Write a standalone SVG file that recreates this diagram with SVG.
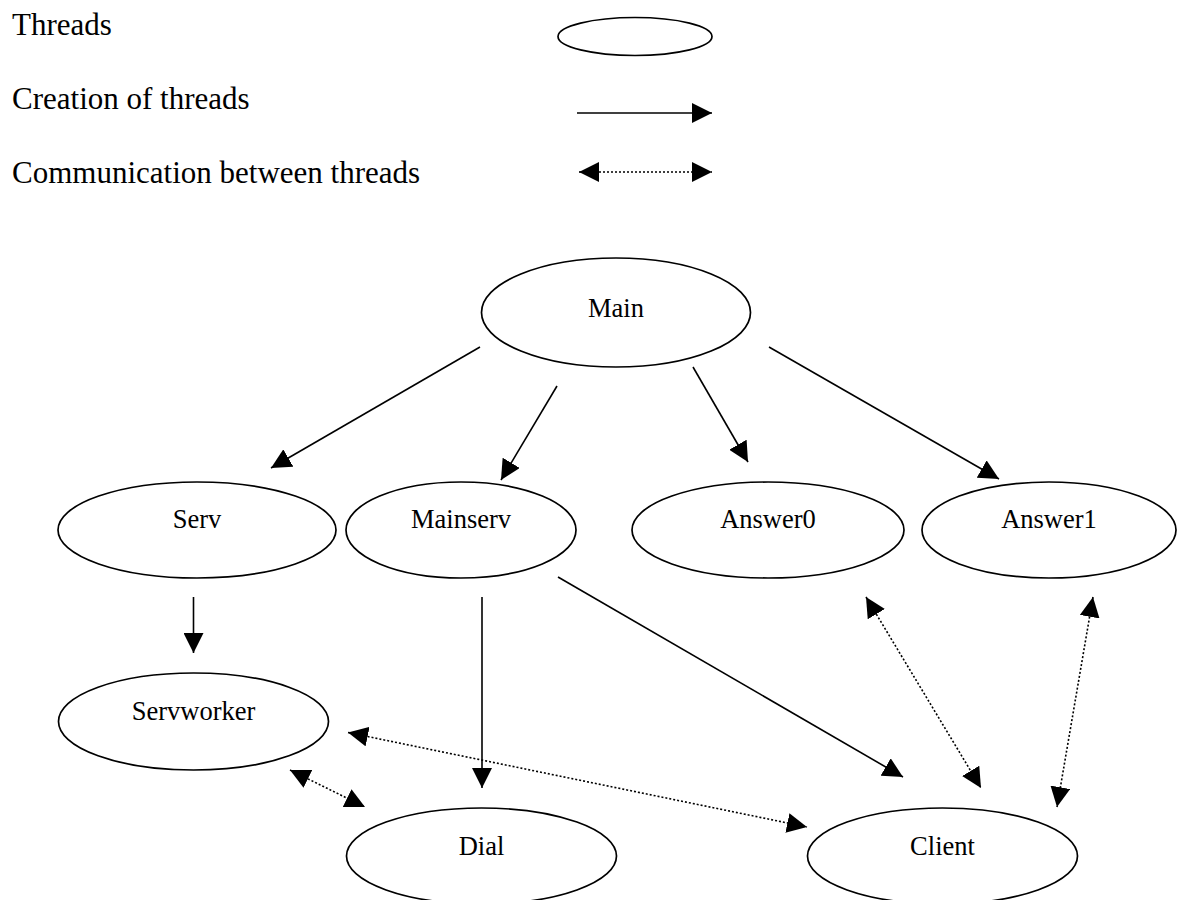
<svg xmlns="http://www.w3.org/2000/svg" width="1191" height="900" viewBox="0 0 1191 900">
  <style>
    .node { fill: #fff; stroke: #000; stroke-width: 1.7; }
    .label { font-family: "Liberation Serif", "Times New Roman", serif; font-size: 26.5px; text-anchor: middle; fill: #000; }
    .legend { font-family: "Liberation Serif", "Times New Roman", serif; font-size: 31px; fill: #000; }
    .create { stroke: #000; stroke-width: 1.6; fill: none; marker-end: url(#head); }
    .talk { stroke: #000; stroke-width: 1.6; stroke-dasharray: 2 2; fill: none; marker-start: url(#head); marker-end: url(#head); }
  </style>
  <defs>
    <marker id="head" markerUnits="userSpaceOnUse" markerWidth="20" markerHeight="20" refX="20" refY="10" orient="auto-start-reverse" viewBox="0 0 20 20">
      <path d="M0,0 L20,10 L0,20 Z" fill="#000" stroke="none"/>
    </marker>
  </defs>
  <rect width="1191" height="900" fill="#fff"/>

  <!-- legend -->
  <g id="legend">
    <text class="legend" x="12" y="35">Threads</text>
    <text class="legend" x="12" y="109">Creation of threads</text>
    <text class="legend" x="12" y="183">Communication between threads</text>
    <ellipse class="node" cx="635" cy="36.5" rx="77" ry="19"/>
    <line class="create" x1="577" y1="113" x2="712" y2="113"/>
    <line class="talk" x1="579" y1="172" x2="712" y2="172"/>
  </g>

  <!-- connectors -->
  <g id="connectors">
    <line class="create" x1="480" y1="347" x2="271" y2="468"/>
    <line class="create" x1="557" y1="386" x2="501" y2="480"/>
    <line class="create" x1="693" y1="367" x2="748" y2="462"/>
    <line class="create" x1="769" y1="347" x2="999" y2="479"/>
    <line class="create" x1="193.5" y1="597" x2="193.5" y2="653"/>
    <line class="create" x1="482" y1="597" x2="482" y2="788"/>
    <line class="create" x1="558" y1="577" x2="903" y2="777"/>
    <line class="talk" x1="866" y1="597" x2="981" y2="788"/>
    <line class="talk" x1="1093" y1="597" x2="1057" y2="807"/>
    <line class="talk" x1="348" y1="732.5" x2="807" y2="827"/>
    <line class="talk" x1="290" y1="770" x2="365" y2="807"/>
  </g>

  <g id="main">
    <ellipse class="node" cx="616" cy="312.5" rx="134.5" ry="54.5"/>
    <text class="label" x="616" y="317">Main</text>
  </g>
  <g id="serv">
    <ellipse class="node" cx="197" cy="530" rx="139" ry="48"/>
    <text class="label" x="197" y="528">Serv</text>
  </g>
  <g id="mainserv">
    <ellipse class="node" cx="461" cy="530" rx="115" ry="48"/>
    <text class="label" x="461" y="528">Mainserv</text>
  </g>
  <g id="answer0">
    <ellipse class="node" cx="768" cy="530" rx="136" ry="48"/>
    <text class="label" x="768" y="528">Answer0</text>
  </g>
  <g id="answer1">
    <ellipse class="node" cx="1049" cy="530" rx="127" ry="48"/>
    <text class="label" x="1049" y="528">Answer1</text>
  </g>
  <g id="servworker">
    <ellipse class="node" cx="193.5" cy="721.5" rx="135" ry="48.5"/>
    <text class="label" x="193.5" y="720">Servworker</text>
  </g>
  <g id="dial">
    <ellipse class="node" cx="481.5" cy="856" rx="135" ry="48"/>
    <text class="label" x="481.5" y="855">Dial</text>
  </g>
  <g id="client">
    <ellipse class="node" cx="942.5" cy="856" rx="135" ry="48"/>
    <text class="label" x="942.5" y="855">Client</text>
  </g>
</svg>
